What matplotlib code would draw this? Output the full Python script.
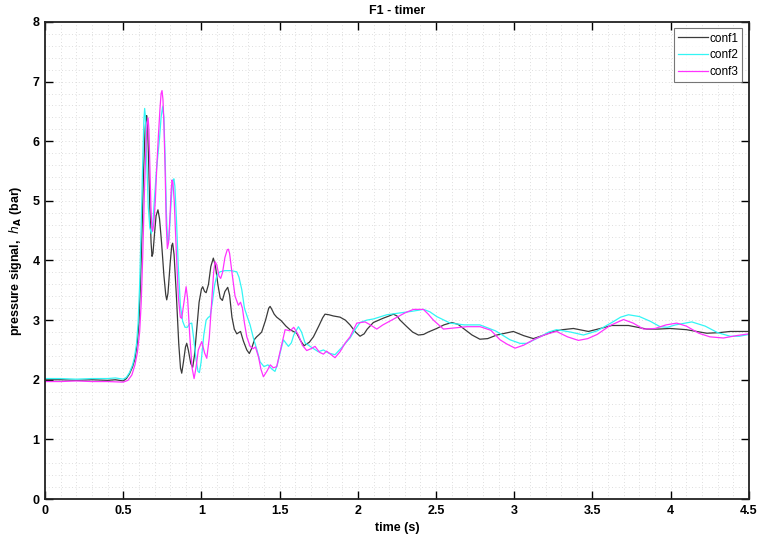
import matplotlib
matplotlib.use("Agg")
import matplotlib.pyplot as plt
from matplotlib.ticker import MultipleLocator, FuncFormatter

plt.rcParams['font.family'] = ['Liberation Sans', 'DejaVu Sans']

# pressure signal h_A (bar) versus time (s) for three configurations
t_conf1 = [0, 0.1, 0.2, 0.3, 0.4, 0.45, 0.5, 0.52, 0.54, 0.56, 0.575, 0.59, 0.60, 0.61,
           0.62, 0.63, 0.64, 0.646, 0.650, 0.655, 0.662, 0.67, 0.678, 0.684, 0.69, 0.70,
           0.71, 0.722, 0.732, 0.745, 0.76, 0.772, 0.778, 0.786, 0.80, 0.81, 0.816, 0.825,
           0.84, 0.855, 0.866, 0.874, 0.885, 0.898, 0.906, 0.916, 0.932, 0.944, 0.955, 0.97,
           0.985, 1.0, 1.008, 1.02, 1.03, 1.045, 1.06, 1.076, 1.09, 1.105, 1.12, 1.134,
           1.15, 1.168, 1.18, 1.195, 1.21, 1.226, 1.25, 1.268, 1.29, 1.306, 1.32, 1.34,
           1.353, 1.37, 1.385, 1.41, 1.43, 1.439, 1.45, 1.465, 1.481, 1.51, 1.54, 1.566,
           1.609, 1.635, 1.656, 1.69, 1.716, 1.75, 1.775, 1.79, 1.815, 1.843, 1.886, 1.92,
           1.95, 1.985, 2.014, 2.04, 2.06, 2.099, 2.16, 2.2, 2.227, 2.25, 2.27, 2.313,
           2.35, 2.387, 2.42, 2.45, 2.504, 2.55, 2.60, 2.64, 2.675, 2.73, 2.78, 2.83,
           2.888, 2.994, 3.06, 3.122, 3.19, 3.25, 3.31, 3.378, 3.474, 3.55, 3.623, 3.73,
           3.847, 3.92, 3.996, 4.10, 4.231, 4.31, 4.38, 4.5]
h_conf1 = [2.0, 2.0, 1.99, 2.0, 1.99, 2.0, 1.98, 2.02, 2.1, 2.22, 2.35, 2.62, 2.95, 3.6,
           4.5, 5.5, 6.2, 6.4, 6.43, 6.3, 5.7, 4.9, 4.3, 4.07, 4.12, 4.45,
           4.75, 4.85, 4.7, 4.3, 3.75, 3.42, 3.34, 3.45, 3.95, 4.25, 4.29, 4.1,
           3.4, 2.6, 2.2, 2.11, 2.3, 2.55, 2.61, 2.5, 2.27, 2.21, 2.4, 2.85,
           3.3, 3.52, 3.56, 3.48, 3.46, 3.6, 3.9, 4.04, 3.9, 3.6, 3.37, 3.33,
           3.48, 3.55, 3.42, 3.05, 2.85, 2.77, 2.81, 2.65, 2.5, 2.44, 2.52, 2.68,
           2.72, 2.76, 2.8, 3.0, 3.2, 3.23, 3.18, 3.1, 3.05, 2.99, 2.9, 2.84,
           2.78, 2.65, 2.57, 2.63, 2.72, 2.9, 3.04, 3.1, 3.09, 3.07, 3.05, 3.0,
           2.92, 2.8, 2.73, 2.77, 2.85, 2.96, 3.03, 3.07, 3.10, 3.07, 3.0, 2.89,
           2.8, 2.75, 2.76, 2.8, 2.86, 2.92, 2.96, 2.93, 2.86, 2.75, 2.68, 2.69,
           2.75, 2.81, 2.74, 2.69, 2.75, 2.81, 2.84, 2.86, 2.81, 2.86, 2.91, 2.91,
           2.85, 2.85, 2.86, 2.84, 2.78, 2.79, 2.81, 2.81]

t_conf2 = [0, 0.1, 0.2, 0.3, 0.4, 0.45, 0.5, 0.52, 0.54, 0.56, 0.572, 0.585, 0.595, 0.605,
           0.615, 0.625, 0.632, 0.637, 0.642, 0.65, 0.66, 0.67, 0.68, 0.69, 0.70, 0.712,
           0.722, 0.732, 0.742, 0.752, 0.76, 0.768, 0.776, 0.784, 0.792, 0.80, 0.81, 0.818,
           0.824, 0.83, 0.84, 0.852, 0.865, 0.88, 0.895, 0.91, 0.925, 0.938, 0.95, 0.965,
           0.978, 0.987, 0.998, 1.015, 1.03, 1.045, 1.055, 1.07, 1.085, 1.1, 1.119, 1.15,
           1.19, 1.226, 1.24, 1.258, 1.275, 1.29, 1.311, 1.332, 1.355, 1.375, 1.40, 1.425,
           1.45, 1.47, 1.485, 1.50, 1.524, 1.556, 1.575, 1.59, 1.62, 1.64, 1.662, 1.70,
           1.747, 1.78, 1.81, 1.854, 1.90, 1.95, 1.985, 2.014, 2.057, 2.10, 2.185, 2.27,
           2.35, 2.42, 2.46, 2.504, 2.59, 2.68, 2.78, 2.88, 2.93, 2.973, 3.037, 3.08,
           3.165, 3.22, 3.27, 3.36, 3.442, 3.53, 3.63, 3.68, 3.73, 3.80, 3.87, 3.932,
           3.98, 4.03, 4.135, 4.22, 4.30, 4.38, 4.44, 4.5]
h_conf2 = [2.02, 2.02, 2.01, 2.02, 2.02, 2.03, 2.01, 2.04, 2.12, 2.25, 2.38, 2.6, 2.95, 3.6,
           4.6, 5.7, 6.35, 6.55, 6.4, 5.7, 4.9, 4.55, 4.45, 4.65, 5.05, 5.5,
           5.77, 6.05, 6.4, 6.58, 6.4, 5.7, 4.8, 4.3, 4.35, 4.7, 5.15, 5.35,
           5.37, 5.25, 4.7, 3.9, 3.25, 2.98, 2.88, 2.88, 2.94, 2.95, 2.7, 2.35,
           2.14, 2.12, 2.3, 2.75, 3.0, 3.05, 3.06, 3.3, 3.6, 3.76, 3.81, 3.83,
           3.83, 3.81, 3.72, 3.51, 3.2, 3.08, 2.92, 2.7, 2.5, 2.3, 2.22, 2.25,
           2.18, 2.14, 2.25, 2.42, 2.67, 2.56, 2.62, 2.75, 2.89, 2.8, 2.62, 2.55,
           2.47, 2.5, 2.45, 2.42, 2.55, 2.70, 2.85, 2.96, 3.0, 3.02, 3.09, 3.12,
           3.15, 3.18, 3.14, 3.06, 2.95, 2.92, 2.92, 2.82, 2.74, 2.67, 2.61, 2.61,
           2.72, 2.8, 2.84, 2.8, 2.75, 2.82, 2.97, 3.05, 3.09, 3.06, 2.98, 2.89,
           2.88, 2.92, 2.97, 2.9, 2.79, 2.73, 2.73, 2.76]

t_conf3 = [0, 0.1, 0.2, 0.3, 0.4, 0.5, 0.53, 0.555, 0.575, 0.59, 0.605, 0.615, 0.625, 0.635,
           0.645, 0.653, 0.659, 0.664, 0.67, 0.677, 0.683, 0.688, 0.695, 0.705, 0.715, 0.725,
           0.735, 0.742, 0.748, 0.754, 0.76, 0.768, 0.775, 0.782, 0.79, 0.80, 0.807, 0.812,
           0.818, 0.826, 0.84, 0.852, 0.865, 0.874, 0.888, 0.902, 0.912, 0.925, 0.94, 0.953,
           0.965, 0.98, 1.002, 1.02, 1.034, 1.05, 1.065, 1.078, 1.087, 1.098, 1.112, 1.123,
           1.135, 1.15, 1.165, 1.172, 1.18, 1.195, 1.215, 1.236, 1.25, 1.262, 1.275, 1.29,
           1.311, 1.33, 1.345, 1.365, 1.38, 1.396, 1.42, 1.44, 1.46, 1.481, 1.51, 1.535,
           1.567, 1.59, 1.62, 1.645, 1.673, 1.70, 1.726, 1.755, 1.78, 1.80, 1.83, 1.854,
           1.886, 1.92, 1.95, 1.993, 2.046, 2.08, 2.121, 2.16, 2.195, 2.25, 2.30, 2.355,
           2.419, 2.45, 2.483, 2.547, 2.62, 2.696, 2.781, 2.85, 2.909, 2.952, 3.005, 3.06,
           3.122, 3.20, 3.27, 3.34, 3.41, 3.47, 3.53, 3.613, 3.698, 3.76, 3.826, 3.90,
           3.97, 4.039, 4.10, 4.18, 4.25, 4.337, 4.42, 4.5]
h_conf3 = [1.97, 1.97, 1.98, 1.97, 1.97, 1.96, 1.99, 2.08, 2.25, 2.45, 2.8, 3.3, 4.1, 5.1,
           5.9, 6.3, 6.39, 6.2, 5.6, 4.9, 4.55, 4.49, 4.6, 5.0, 5.6, 6.1,
           6.55, 6.8, 6.85, 6.7, 6.3, 5.5, 4.6, 4.2, 4.3, 4.8, 5.2, 5.35,
           5.3, 5.0, 4.1, 3.4, 3.05, 3.03, 3.3, 3.56, 3.35, 2.75, 2.2, 2.02,
           2.2, 2.5, 2.64, 2.45, 2.36, 2.7, 3.3, 3.8, 3.98, 3.93, 3.74, 3.70,
           3.8, 4.05, 4.18, 4.19, 4.12, 3.8, 3.4, 3.25, 3.3, 3.2, 2.95, 2.72,
           2.56, 2.52, 2.55, 2.38, 2.18, 2.05, 2.15, 2.25, 2.2, 2.22, 2.55, 2.84,
           2.82, 2.88, 2.75, 2.58, 2.49, 2.52, 2.56, 2.46, 2.43, 2.48, 2.42, 2.37,
           2.47, 2.62, 2.72, 2.95, 2.97, 2.92, 2.85, 2.92, 2.97, 3.05, 3.12, 3.18,
           3.18, 3.1, 3.0, 2.85, 2.87, 2.89, 2.89, 2.83, 2.67, 2.60, 2.53, 2.58,
           2.67, 2.76, 2.81, 2.72, 2.66, 2.69, 2.76, 2.91, 3.01, 2.95, 2.85, 2.86,
           2.92, 2.95, 2.9, 2.78, 2.72, 2.70, 2.74, 2.77]

series_labels = ["conf1", "conf2", "conf3"]
series_colors = ["#3a3a3a", "#33f5f5", "#ff33ff"]

fig = plt.figure(figsize=(7.58, 5.39), dpi=100)
ax = fig.add_axes([0.0594, 0.0742, 0.9286, 0.885])

for (t, h), lab, col in zip([(t_conf1, h_conf1), (t_conf2, h_conf2), (t_conf3, h_conf3)],
                            series_labels, series_colors):
    ax.plot(t, h, color=col, lw=0.9, label=lab, solid_joinstyle='round')

ax.set_xlim(0, 4.5)
ax.set_ylim(0, 8)
ax.xaxis.set_major_locator(MultipleLocator(0.5))
ax.xaxis.set_minor_locator(MultipleLocator(0.1))
ax.yaxis.set_major_locator(MultipleLocator(1))
ax.yaxis.set_minor_locator(MultipleLocator(0.2))
ax.xaxis.set_major_formatter(FuncFormatter(lambda v, p: f"{v:g}"))

ax.grid(True, which='both', color='#d4d4d4', linestyle=(0, (1, 3)), linewidth=0.6)
ax.set_axisbelow(True)

ax.tick_params(which='major', direction='in', length=6, width=1.0, top=True, right=True,
               labelsize=9, pad=4)
ax.tick_params(which='minor', length=0)
for lbl in ax.get_xticklabels() + ax.get_yticklabels():
    lbl.set_fontweight('bold')
for s in ax.spines.values():
    s.set_linewidth(1.3)
    s.set_color('#222222')

ax.set_title("F1 - timer", fontsize=9, fontweight='bold', pad=6)
ax.set_xlabel("time (s)", fontsize=9, fontweight='bold', labelpad=4)
ax.set_ylabel(r"pressure signal,  $\mathbf{\mathit{h}_A}$ (bar)", fontsize=9,
              fontweight='bold', labelpad=6)

leg = ax.legend(loc='upper right', fontsize=8.5, frameon=True, fancybox=False,
                edgecolor='#555555', handlelength=2.5, handletextpad=0.15,
                borderpad=0.35, labelspacing=0.4, borderaxespad=0.55)
leg.get_frame().set_linewidth(0.8)

fig.savefig("out.png", dpi=100)
